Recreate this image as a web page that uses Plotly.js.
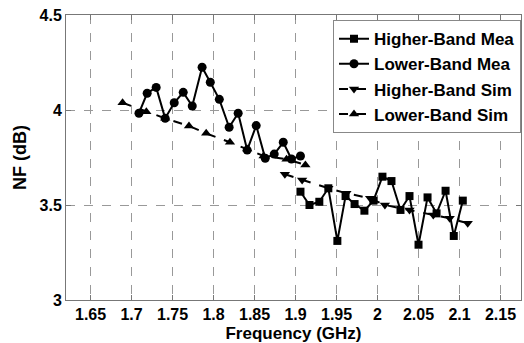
<!DOCTYPE html>
<html>
<head>
<meta charset="utf-8">
<script src="https://cdn.plot.ly/plotly-3.0.1.min.js"></script>
<style>
  html, body { margin: 0; padding: 0; background: #fff; }
  #chart { width: 524px; height: 343px; }
</style>
</head>
<body>
<div id="chart"></div>
<script>
// Measured noise figure, higher band (GHz, dB)
const hiMeaFreq = [1.906, 1.917, 1.929, 1.940, 1.951, 1.961, 1.972, 1.984, 1.995, 2.006,
                   2.017, 2.028, 2.039, 2.050, 2.061, 2.072, 2.083, 2.093, 2.104];
const hiMeaNF   = [3.570, 3.500, 3.517, 3.588, 3.311, 3.547, 3.505, 3.470, 3.523, 3.649,
                   3.626, 3.474, 3.547, 3.291, 3.540, 3.456, 3.575, 3.337, 3.523];

// Measured noise figure, lower band
const loMeaFreq = [1.709, 1.719, 1.730, 1.741, 1.752, 1.763, 1.774, 1.786, 1.796, 1.807,
                   1.819, 1.830, 1.841, 1.852, 1.863, 1.874, 1.885, 1.895, 1.906];
const loMeaNF   = [3.983, 4.088, 4.119, 3.956, 4.038, 4.093, 4.021, 4.225, 4.146, 4.056,
                   3.909, 3.983, 3.789, 3.918, 3.746, 3.768, 3.830, 3.742, 3.758];

// Simulated noise figure, higher band
const hiSimFreq = [1.887, 1.908, 1.940, 1.962, 1.991, 2.009, 2.039, 2.068, 2.088, 2.110];
const hiSimNF   = [3.662, 3.632, 3.588, 3.562, 3.535, 3.500, 3.474, 3.447, 3.430, 3.404];

// Simulated noise figure, lower band
const loSimFreq = [1.689, 1.718, 1.741, 1.770, 1.791, 1.820, 1.841, 1.861, 1.889, 1.912];
const loSimNF   = [4.038, 3.991, 3.956, 3.916, 3.877, 3.830, 3.795, 3.758, 3.741, 3.711];

const seriesNames = ['Higher-Band Mea', 'Lower-Band Mea', 'Higher-Band Sim', 'Lower-Band Sim'];

const xTicks = [1.65, 1.7, 1.75, 1.8, 1.85, 1.9, 1.95, 2, 2.05, 2.1, 2.15];
const xTickText = ['1.65', '1.7', '1.75', '1.8', '1.85', '1.9', '1.95', '2', '2.05', '2.1', '2.15'];
const yTicks = [3, 3.5, 4, 4.5];
const yTickText = ['3', '3.5', '4', '4.5'];

const FONT = 'Liberation Sans, Arial, sans-serif';

function trace(x, y, name, symbol, dash, size) {
  return {
    x: x, y: y, name: name, type: 'scatter', mode: 'lines+markers',
    line: { color: '#000', width: 2, dash: dash },
    marker: { color: '#000', symbol: symbol, size: size }
  };
}

const data = [
  trace(hiMeaFreq, hiMeaNF, seriesNames[0], 'square', 'solid', 8),
  trace(loMeaFreq, loMeaNF, seriesNames[1], 'circle', 'solid', 9),
  trace(hiSimFreq, hiSimNF, seriesNames[2], 'triangle-down', 'dash', 9),
  trace(loSimFreq, loSimNF, seriesNames[3], 'triangle-up', 'dash', 9)
];

const axisCommon = {
  showline: true, linecolor: '#777', linewidth: 1, mirror: 'ticks',
  ticks: 'inside', ticklen: 5, tickcolor: '#777',
  showgrid: true, gridcolor: '#999', griddash: 'dash', gridwidth: 1,
  zeroline: false,
  tickfont: { family: FONT, size: 16, color: '#000', weight: 'bold' }
};

const layout = {
  width: 524, height: 343,
  margin: { l: 66, r: 3, t: 15, b: 43 },
  paper_bgcolor: '#fff', plot_bgcolor: '#fff',
  showlegend: true,
  legend: {
    x: 1, xanchor: 'right', y: 0.982, yanchor: 'top',
    bgcolor: '#fff', bordercolor: '#888', borderwidth: 1,
    font: { family: FONT, size: 17, color: '#000', weight: 'bold' },
    itemwidth: 30, tracegroupgap: 0
  },
  xaxis: Object.assign({}, axisCommon, {
    range: [1.62, 2.175],
    tickmode: 'array', tickvals: xTicks, ticktext: xTickText,
    ticklabelstandoff: 0,
    title: { text: 'Frequency (GHz)', standoff: 4,
             font: { family: FONT, size: 17, color: '#000', weight: 'bold' } }
  }),
  yaxis: Object.assign({}, axisCommon, {
    range: [3, 4.5],
    tickmode: 'array', tickvals: yTicks, ticktext: yTickText,
    title: { text: 'NF (dB)', standoff: 8,
             font: { family: FONT, size: 18, color: '#000', weight: 'bold' } }
  })
};

Plotly.newPlot('chart', data, layout, { displayModeBar: false, staticPlot: true });
</script>
</body>
</html>
